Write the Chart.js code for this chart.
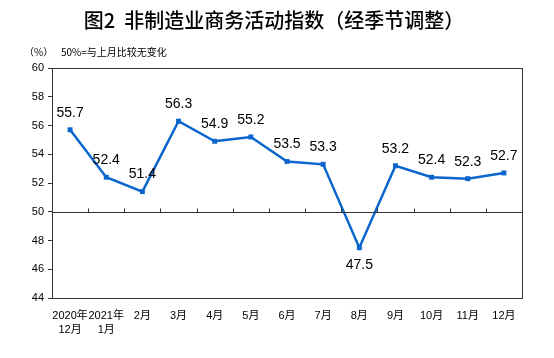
<!DOCTYPE html>
<html><head><meta charset="utf-8">
<script src="https://cdn.jsdelivr.net/npm/chart.js@4.4.1/dist/chart.umd.min.js"></script>
<style>html,body{margin:0;padding:0;background:#fff;}#wrap{width:554px;height:358px;}</style>
</head><body><div id="wrap"><canvas id="c" width="554" height="358"></canvas></div>
<script>
const categories = [["2020年","12月"],["2021年","1月"],"2月","3月","4月","5月","6月","7月","8月","9月","10月","11月","12月"];
const values = [55.7,52.4,51.4,56.3,54.9,55.2,53.5,53.3,47.5,53.2,52.4,52.3,52.7];
const yTicks = [44,46,48,50,52,54,56,58,60];
const titleText = "图2  非制造业商务活动指数（经季节调整）";
const unitText = "（%）";
const noteText = "50%=与上月比较无变化";
const baseline = 50;

const FONT = "Arial, 'Liberation Sans', 'Noto Sans CJK SC', sans-serif";

const deco = {
  id: 'deco',
  afterDraw(chart) {
    const ctx = chart.ctx, a = chart.chartArea, x = chart.scales.x, y = chart.scales.y;
    ctx.save();
    ctx.strokeStyle = '#333'; ctx.lineWidth = 1;
    ctx.strokeRect(Math.round(a.left)+0.5, Math.round(a.top)+0.5, Math.round(a.right-a.left), Math.round(a.bottom-a.top));
    const yb = Math.round(y.getPixelForValue(baseline)) + 0.5;
    ctx.beginPath(); ctx.moveTo(a.left, yb); ctx.lineTo(a.right, yb); ctx.stroke();
    for (let i = 0; i < categories.length - 1; i++) {
      const xp = Math.round((x.getPixelForValue(i) + x.getPixelForValue(i+1)) / 2) + 0.5;
      ctx.beginPath(); ctx.moveTo(xp, yb); ctx.lineTo(xp, yb - 4); ctx.stroke();
    }
    ctx.fillStyle = '#000';
    ctx.font = "500 20px 'Noto Sans CJK SC', sans-serif";
    ctx.textAlign = 'center'; ctx.textBaseline = 'middle';
    ctx.fillText(titleText, 274, 20);
    ctx.font = "10px 'Noto Sans CJK SC', sans-serif";
    ctx.textAlign = 'left';
    ctx.fillText(unitText, 24, 52);
    ctx.fillText(noteText, 61, 52);
    ctx.font = "14px " + FONT;
    ctx.textAlign = 'center';
    const meta = chart.getDatasetMeta(0);
    meta.data.forEach((pt, i) => {
      const below = values[i] < baseline;
      ctx.fillText(String(values[i].toFixed(1)), pt.x, pt.y + (below ? 17 : -17));
    });
    ctx.restore();
  }
};

new Chart(document.getElementById('c'), {
  type: 'line',
  data: {
    labels: categories,
    datasets: [{
      data: values,
      borderColor: '#0A66CC',
      backgroundColor: '#0A66CC',
      borderWidth: 2.5,
      pointStyle: 'rect',
      pointRadius: 3.5,
      pointBorderWidth: 0,
      tension: 0
    }]
  },
  options: {
    responsive: false,
    animation: false,
    devicePixelRatio: 1,
    layout: { padding: { top: 68, right: 32, left: 0, bottom: 0 } },
    plugins: { legend: { display: false }, tooltip: { enabled: false }, title: { display: false } },
    scales: {
      x: {
        offset: true,
        grid: { display: false },
        border: { display: true, color: '#333' },
        ticks: { color: '#000', font: { size: 11, family: FONT, lineHeight: 1.25 }, maxRotation: 0, autoSkip: false, padding: 3 },
        afterFit(s) { s.height = 60; }
      },
      y: {
        min: 44, max: 60,
        afterBuildTicks(s) { s.ticks = yTicks.map(v => ({ value: v })); },
        grid: { drawOnChartArea: false, drawTicks: true, tickLength: 4, color: '#333' },
        border: { display: true, color: '#333' },
        ticks: { color: '#000', font: { size: 11, family: FONT }, padding: 4 },
        afterFit(s) { s.width = 52; }
      }
    }
  },
  plugins: [deco]
});
</script></body></html>
